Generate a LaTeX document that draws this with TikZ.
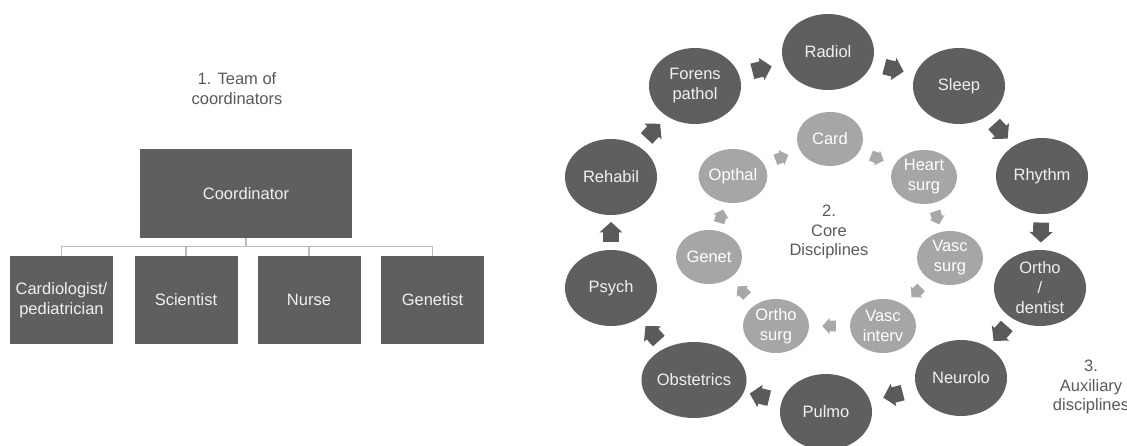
\documentclass[tikz,border=0pt]{standalone}
\usepackage{fontspec}
\setmainfont{Liberation Sans}
\usetikzlibrary{shapes.geometric,calc}
\definecolor{darkc}{HTML}{5F5F5F}
\definecolor{lightc}{HTML}{A6A6A6}
\definecolor{boxtext}{HTML}{F0F0F0}
\definecolor{titlec}{HTML}{5A5A5A}
\definecolor{linec}{HTML}{BDBDBD}
\definecolor{darkarr}{HTML}{5A5A5A}
\definecolor{lightarr}{HTML}{A8A8A8}
\newcommand{\blockarr}[3]{\path let \p1=($(#2)-(#1)$), \n1={atan2(\y1,\x1)} in pic[rotate=\n1] at ($(#1)!0.5!(#2)$) {#3};}
\begin{document}
\begin{tikzpicture}[x=1pt,y=-1pt,
  every node/.style={font=\fontsize{16.5}{20}\selectfont, align=center},
  box/.style={rectangle, fill=darkc, text=boxtext, inner sep=0pt, minimum width=103pt, minimum height=88pt},
  outer/.style={ellipse, fill=darkc, text=boxtext, minimum width=92pt, minimum height=76pt, inner sep=0pt},
  inner/.style={ellipse, fill=lightc, text=white, minimum width=66pt, minimum height=54pt, inner sep=0pt},
  lbl/.style={text=titlec, inner sep=0pt},
  tree/.style={draw=linec, line width=1.3pt},
  outerarrow/.pic={\fill[darkarr, scale=1.05] (-9,-7.5) -- (0,-7.5) -- (0,-11) -- (10,0) -- (0,11) -- (0,7.5) -- (-9,7.5) -- cycle;},
  innerarrow/.pic={\fill[lightarr, scale=0.72] (-9,-7.5) -- (0,-7.5) -- (0,-11) -- (10,0) -- (0,11) -- (0,7.5) -- (-9,7.5) -- cycle;}
]
\useasboundingbox (0,0) rectangle (1127,446);
\fill[white] (0,0) rectangle (1127,446);

% ---- Left: team of coordinators
\node[lbl] (title) at (237,88.5) {1. Team of\\coordinators};
\node[box, minimum width=212pt, minimum height=89pt] (coord) at (246,193.5) {Coordinator};
\node[box] (c1) at (61.5,300) {Cardiologist/\\pediatrician};
\node[box] (c2) at (186,300) {Scientist};
\node[box] (c3) at (309,300) {Nurse};
\node[box] (c4) at (432.5,300) {Genetist};
\foreach \c in {c1,c2,c3,c4}
  \draw[tree] (coord.south) -- ++(0,8) -| (\c.north);

% ---- Right: outer ring
\node[outer] (radiol) at (828,52) {Radiol};
\node[outer] (sleep) at (959,86) {Sleep};
\node[outer] (rhythm) at (1042,176) {Rhythm};
\node[outer] (orthod) at (1040,288) {Ortho\\/\\dentist};
\node[outer] (neurolo) at (961,378) {Neurolo};
\node[outer] (pulmo) at (826,412) {Pulmo};
\node[outer] (obst) at (694,380) {Obstetrics};
\node[outer] (psych) at (611,288) {Psych};
\node[outer] (rehabil) at (611,177) {Rehabil};
\node[outer] (forens) at (695,86) {Forens\\pathol};

% ---- inner ring
\node[inner] (card) at (830,139) {Card};
\node[inner] (heart) at (924,177) {Heart\\surg};
\node[inner] (vascs) at (950,258) {Vasc\\surg};
\node[inner] (vasci) at (883,326) {Vasc\\interv};
\node[inner] (orthos) at (776,326) {Ortho\\surg};
\node[inner] (genet) at (709,257) {Genet};
\node[inner] (opthal) at (733,176) {Opthal};

\node[lbl, font=\fontsize{16.5}{19.5}\selectfont] (core) at (829,232) {2.\\Core\\Disciplines};
\node[lbl, font=\fontsize{16.5}{19.5}\selectfont] (aux) at (1091,387) {3.\\Auxiliary\\disciplines};

% ---- arrows outer
\blockarr{forens}{radiol}{outerarrow}
\blockarr{radiol}{sleep}{outerarrow}
\blockarr{sleep}{rhythm}{outerarrow}
\blockarr{rhythm}{orthod}{outerarrow}
\blockarr{orthod}{neurolo}{outerarrow}
\blockarr{neurolo}{pulmo}{outerarrow}
\blockarr{pulmo}{obst}{outerarrow}
\blockarr{obst}{psych}{outerarrow}
\blockarr{psych}{rehabil}{outerarrow}
\blockarr{rehabil}{forens}{outerarrow}

% ---- arrows inner
\blockarr{card}{heart}{innerarrow}
\blockarr{heart}{vascs}{innerarrow}
\blockarr{vascs}{vasci}{innerarrow}
\blockarr{vasci}{orthos}{innerarrow}
\blockarr{orthos}{genet}{innerarrow}
\blockarr{genet}{opthal}{innerarrow}
\blockarr{opthal}{card}{innerarrow}
\end{tikzpicture}
\end{document}
